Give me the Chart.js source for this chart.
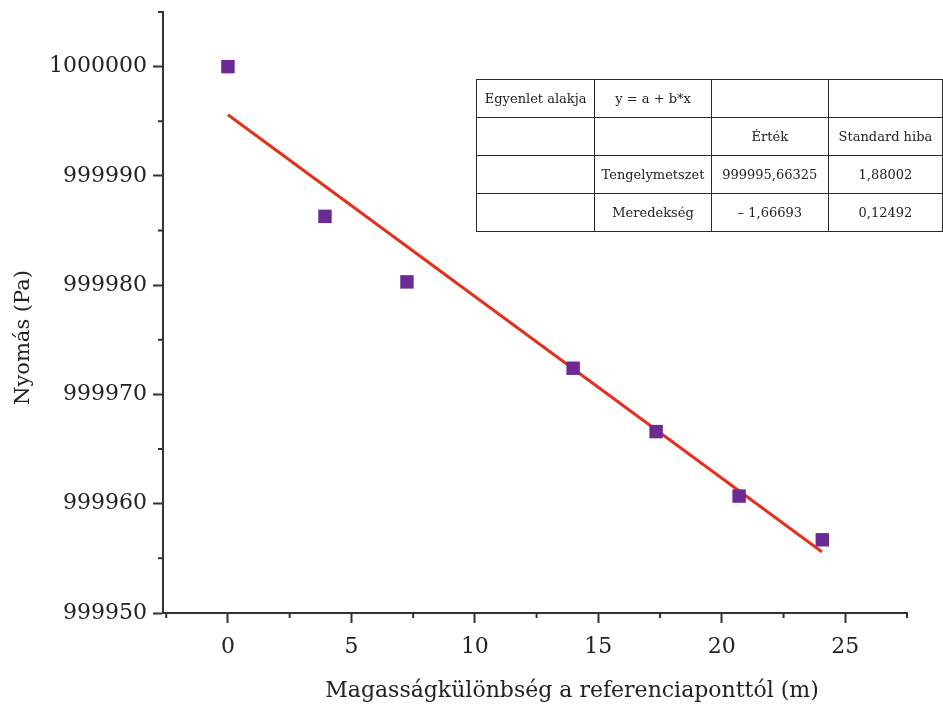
<!DOCTYPE html>
<html>
<head>
<meta charset="utf-8">
<script src="https://cdn.jsdelivr.net/npm/chart.js@4"></script>
<style>
  body { margin: 0; background: #fff; overflow: hidden; }
  #wrap { position: relative; width: 943px; height: 707px; overflow: hidden; }
  #fit {
    position: absolute; left: 476px; top: 79px;
    border-collapse: collapse; table-layout: fixed;
    font-family: "DejaVu Serif", serif; font-size: 13px; color: #222;
  }
  #fit td { border: 1.5px solid #2a2a2a; height: 37px; padding: 0; text-align: center; white-space: nowrap; }
</style>
</head>
<body>
<div id="wrap">
<canvas id="myChart" width="943" height="707"></canvas>
<table id="fit">
  <colgroup><col style="width:119px"><col style="width:117px"><col style="width:118px"><col style="width:115px"></colgroup>
  <tr><td>Egyenlet alakja</td><td>y = a + b*x</td><td></td><td></td></tr>
  <tr><td></td><td></td><td>Érték</td><td>Standard hiba</td></tr>
  <tr><td></td><td>Tengelymetszet</td><td>999995,66325</td><td>1,88002</td></tr>
  <tr><td></td><td>Meredekség</td><td>– 1,66693</td><td>0,12492</td></tr>
</table>
</div>
<script>
// mért pontok
const heightM = [0, 3.93, 7.25, 13.98, 17.34, 20.7, 24.07];
const pressurePa = [1000000, 999986.3, 999980.3, 999972.4, 999966.6, 999960.7, 999956.7];

// illesztett egyenes végpontjai
const fitX = [0, 24.05];
const fitY = [999995.6, 999955.6];

// tengely beosztások
const xMajor = [0, 5, 10, 15, 20, 25];
const xMinor = [-2.5, 2.5, 7.5, 12.5, 17.5, 22.5, 27.5];
const yMajor = [999950, 999960, 999970, 999980, 999990, 1000000];
const yMinor = [999955, 999965, 999975, 999985, 999995, 1000005];

const xTitle = 'Magasságkülönbség a referenciaponttól (m)';
const yTitle = 'Nyomás (Pa)';

const axisColor = '#333';
const serif = '"DejaVu Serif", serif';

// kis osztások + tengelyfeliratok (kicsit eltolva, mint az eredetin)
const axisExtras = {
    id: 'axisExtras',
    afterDraw(chart) {
        const c = chart.ctx;
        const sx = chart.scales.x;
        const sy = chart.scales.y;
        c.save();
        c.strokeStyle = axisColor;
        c.lineWidth = 2;
        c.beginPath();
        xMinor.forEach(v => {
            const px = sx.getPixelForValue(v);
            c.moveTo(px, sx.top);
            c.lineTo(px, sx.top + 5);
        });
        yMinor.forEach(v => {
            const py = sy.getPixelForValue(v);
            c.moveTo(sy.right - 5, py);
            c.lineTo(sy.right, py);
        });
        c.stroke();

        c.fillStyle = '#222';
        c.font = '22px ' + serif;
        c.textAlign = 'center';
        c.textBaseline = 'alphabetic';
        c.fillText(xTitle, (sx.left + sx.right) / 2 + 37, 697);

        c.font = '21px ' + serif;
        c.translate(29, (sy.top + sy.bottom) / 2 + 25);
        c.rotate(-Math.PI / 2);
        c.fillText(yTitle, 0, 0);
        c.restore();
    }
};

const ctx = document.getElementById('myChart');

new Chart(ctx, {
    type: 'scatter',
    data: {
        datasets: [{
            label: 'Nyomás',
            data: heightM.map((x, i) => ({ x: x, y: pressurePa[i] })),
            pointStyle: 'rect',
            pointRadius: 9.5,
            backgroundColor: '#6b2a94',
            borderColor: '#6b2a94',
            borderWidth: 0,
            order: 1
        }, {
            label: 'Illesztés',
            type: 'line',
            data: fitX.map((x, i) => ({ x: x, y: fitY[i] })),
            borderColor: '#e2321c',
            borderWidth: 3,
            pointRadius: 0,
            fill: false,
            order: 2
        }]
    },
    options: {
        responsive: false,
        animation: false,
        layout: { padding: { top: 12, right: 36, left: 0, bottom: 0 } },
        plugins: {
            legend: { display: false },
            tooltip: { enabled: false }
        },
        scales: {
            x: {
                type: 'linear',
                min: -2.63,
                max: 27.5,
                afterBuildTicks: s => { s.ticks = xMajor.map(v => ({ value: v })); },
                afterFit: s => { s.height = 94; s.paddingLeft = 0; s.paddingRight = 0; },
                border: { color: axisColor, width: 2 },
                grid: { drawOnChartArea: false, tickLength: 10, tickColor: axisColor, tickWidth: 2 },
                ticks: { color: '#222', padding: 11, font: { family: serif, size: 22 } }
            },
            y: {
                type: 'linear',
                min: 999950,
                max: 1000005,
                afterBuildTicks: s => { s.ticks = yMajor.map(v => ({ value: v })); },
                afterFit: s => { s.width = 163; s.paddingTop = 0; s.paddingBottom = 0; },
                border: { color: axisColor, width: 2 },
                grid: { drawOnChartArea: false, tickLength: 10, tickColor: axisColor, tickWidth: 2 },
                ticks: { color: '#222', padding: 6, font: { family: serif, size: 22 }, callback: v => String(v) }
            }
        }
    },
    plugins: [axisExtras]
});
</script>
</body>
</html>
